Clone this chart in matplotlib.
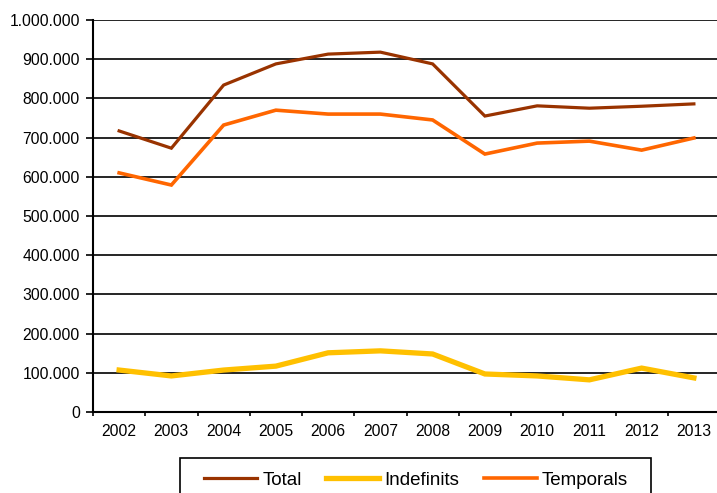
import numpy as np
import matplotlib.pyplot as plt
from matplotlib.patches import Rectangle
from matplotlib.ticker import FuncFormatter, FixedLocator

plt.rcParams['font.family'] = ['Liberation Sans', 'DejaVu Sans']

# ── Dades ──
anys = ['2002', '2003', '2004', '2005', '2006', '2007',
        '2008', '2009', '2010', '2011', '2012', '2013']
total = [717000, 673000, 834000, 888000, 913000, 918000,
         888000, 755000, 781000, 775000, 780000, 786000]
indefinits = [107000, 92000, 107000, 117000, 151000, 156000,
              148000, 97000, 92000, 82000, 112000, 87000]
temporals = [610000, 579000, 732000, 770000, 760000, 760000,
             745000, 658000, 686000, 691000, 668000, 699000]

W, H = 717, 493
fig = plt.figure(figsize=(W / 100, H / 100), dpi=100, facecolor='white')
ax = fig.add_axes([93 / W, 1 - 412 / H, 627 / W, 392 / H])

x = np.arange(len(anys))
l1, = ax.plot(x, total, color='#993300', lw=2.3, solid_joinstyle='miter', zorder=3)
l2, = ax.plot(x, indefinits, color='#FFC000', lw=3.8, solid_joinstyle='miter', zorder=3)
l3, = ax.plot(x, temporals, color='#FF6600', lw=2.6, solid_joinstyle='miter', zorder=3)

ax.set_xlim(-0.5, len(anys) - 0.5)
ax.set_ylim(0, 1000000)
ax.set_yticks(np.arange(0, 1000001, 100000))
ax.yaxis.set_major_formatter(FuncFormatter(
    lambda v, p: f'{int(v):,}'.replace(',', '.')))
ax.yaxis.grid(True, color='black', lw=1.2)
ax.set_axisbelow(True)

ax.set_xticks(x)
ax.set_xticklabels(anys)
ax.xaxis.set_minor_locator(FixedLocator(np.arange(-0.5, len(anys), 1)))
ax.tick_params(axis='x', which='major', length=0, labelsize=11.3, pad=9)
ax.tick_params(axis='x', which='minor', length=3, width=1.2, direction='out')
ax.tick_params(axis='y', length=5, width=1.2, labelsize=11.3, pad=4.5)

for s in ['top', 'right']:
    ax.spines[s].set_visible(False)
ax.spines['left'].set_linewidth(1.5)
ax.spines['bottom'].set_linewidth(1.5)

# caixa de la llegenda (tallada per baix com a l'original)
fig.patches.append(Rectangle((180 / W, 1 - 502 / H), 471 / W, 44 / H,
                             transform=fig.transFigure, fill=False,
                             edgecolor='black', lw=1.2))

leg = fig.legend([l1, l2, l3], ['Total', 'Indefinits', 'Temporals'],
                 loc='center left', bbox_to_anchor=(195 / W, 1 - 480 / H),
                 ncol=3, frameon=False, fontsize=13.5, borderpad=0,
                 handlelength=2.83, columnspacing=1.3, handletextpad=0.27)

fig.savefig('out.png', dpi=100, facecolor='white')
